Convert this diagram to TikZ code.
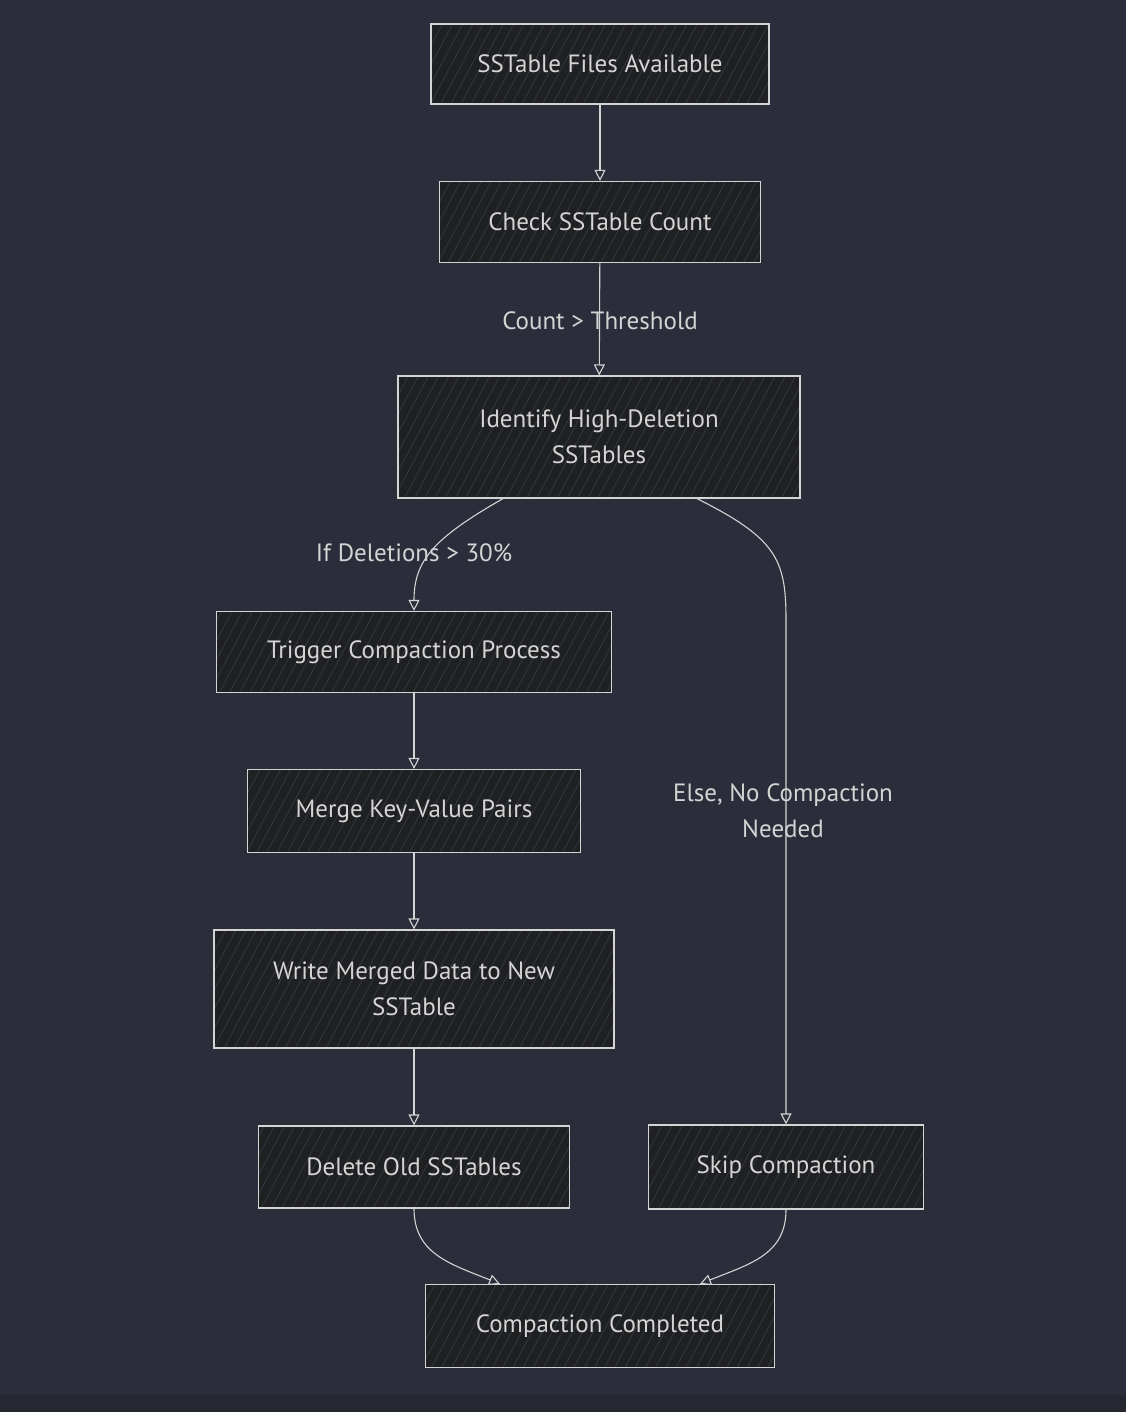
\documentclass[tikz,border=0pt]{standalone}
\usepackage{fontspec}
\setmainfont{PT Sans}
\usetikzlibrary{arrows.meta,patterns.meta}
\definecolor{bgcol}{HTML}{2B2E3A}
\definecolor{stripcol}{HTML}{252830}
\definecolor{boxfill}{HTML}{1F2022}
\definecolor{hatchcol}{HTML}{32353F}
\definecolor{inkcol}{HTML}{D4D4D4}
\tikzset{
	stepbox/.style={draw=inkcol,line width=1.2pt,preaction={fill=boxfill},
		pattern={Lines[angle=62,distance=9pt,line width=0.9pt]},pattern color=hatchcol,
		text=inkcol,align=center,inner sep=0pt,font=\fontsize{25}{36}\selectfont},
	flow/.style={draw=inkcol,line width=1.1pt,-{Triangle[open,length=11pt,width=11pt]}},
	lbl/.style={text=inkcol,align=center,font=\fontsize{25}{36}\selectfont}
}
\begin{document}
\begin{tikzpicture}[x=1pt,y=-1pt]
	\fill[bgcol] (0,0) rectangle (1126,1412);
	\fill[stripcol] (0,1395) rectangle (1126,1412);
	\useasboundingbox (0,0) rectangle (1126,1412);
	\node[stepbox,minimum width=338pt,minimum height=80pt] (files) at (600,64) {SSTable Files Available};
	\node[stepbox,minimum width=321pt,minimum height=81pt] (count) at (600,222) {Check SSTable Count};
	\node[stepbox,minimum width=402pt,minimum height=122pt] (ident) at (599,437) {Identify High-Deletion\\SSTables};
	\node[stepbox,minimum width=395pt,minimum height=81pt] (trigger) at (414,652) {Trigger Compaction Process};
	\node[stepbox,minimum width=333pt,minimum height=83pt] (merge) at (414,811) {Merge Key-Value Pairs};
	\node[stepbox,minimum width=400pt,minimum height=118pt] (write) at (414,989) {Write Merged Data to New\\SSTable};
	\node[stepbox,minimum width=311pt,minimum height=82pt] (delete) at (414,1167) {Delete Old SSTables};
	\node[stepbox,minimum width=275pt,minimum height=84pt] (skip) at (786,1167) {Skip Compaction};
	\node[stepbox,minimum width=349pt,minimum height=83pt] (done) at (600,1326) {Compaction Completed};
	\draw[flow] (files) -- (count);
	\draw[flow] (count) -- (ident);
	\draw[flow] ([xshift=-96pt]ident.south) .. controls +(-70,40) and +(0,-50) .. (trigger.north);
	\draw[flow] ([xshift=98pt]ident.south) .. controls +(80,40) and +(0,-60) .. (786,620) -- (skip.north);
	\draw[flow] (trigger) -- (merge);
	\draw[flow] (merge) -- (write);
	\draw[flow] (write) -- (delete);
	\draw[flow] (delete.south) .. controls +(0,45) and +(-50,-20) .. ([xshift=-100pt]done.north);
	\draw[flow] (skip.south) .. controls +(0,45) and +(50,-20) .. ([xshift=100pt]done.north);
	\node[lbl] (lcount) at (600,321) {Count > Threshold};
	\node[lbl] (ldel) at (414,553) {If Deletions > 30\%};
	\node[lbl] (lelse) at (783,811) {Else, No Compaction\\Needed};
\end{tikzpicture}
\end{document}
